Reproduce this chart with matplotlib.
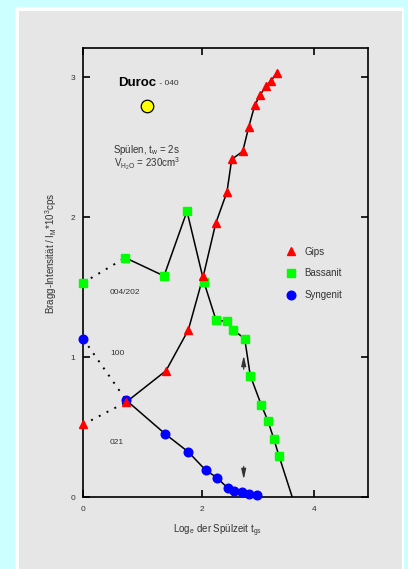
import matplotlib
matplotlib.use("Agg")
import matplotlib.pyplot as plt
from matplotlib.patches import Rectangle
from matplotlib.lines import Line2D

plt.rcParams['font.family'] = ['Liberation Sans', 'DejaVu Sans']
plt.rcParams['mathtext.fontset'] = 'custom'
plt.rcParams['mathtext.rm'] = 'Liberation Sans'
plt.rcParams['mathtext.it'] = 'Liberation Sans'

# ---- data (x = Log_e der Spülzeit, y = Bragg-Intensität) ----
gips_x = [0.0, 0.740, 1.433, 1.820, 2.080, 2.295, 2.490, 2.572, 2.763, 2.866, 2.971, 3.062, 3.166, 3.253, 3.357]
gips_y = [0.521, 0.679, 0.904, 1.195, 1.581, 1.957, 2.181, 2.414, 2.471, 2.643, 2.800, 2.871, 2.938, 2.976, 3.033]

bass_x = [0.0, 0.728, 1.399, 1.797, 2.092, 2.300, 2.490, 2.589, 2.797, 2.894, 3.085, 3.201, 3.300, 3.392]
bass_y = [1.533, 1.711, 1.581, 2.043, 1.536, 1.266, 1.256, 1.197, 1.134, 0.869, 0.659, 0.545, 0.419, 0.295]
bass_tail_x = [3.392, 3.622]
bass_tail_y = [0.295, 0.0]

syn_x = [0.0, 0.740, 1.421, 1.820, 2.118, 2.317, 2.508, 2.617, 2.745, 2.877, 3.005]
syn_y = [1.131, 0.695, 0.452, 0.324, 0.195, 0.140, 0.064, 0.044, 0.038, 0.026, 0.014]

duroc_x, duroc_y = [1.104], [2.795]

x_ticks = [0.0, 2.05, 4.0]
x_ticklabels = ['0', '2', '4']
y_ticks = [0, 1, 2, 3]
y_ticklabels = ['0', '1', '2', '3']

W, H = 408, 569
fig = plt.figure(figsize=(W / 100, H / 100), dpi=100)
fig.patch.set_facecolor('#ccffff')
fig.patches.append(Rectangle((15 / W, 0), (404 - 15) / W, (H - 7) / H,
                             transform=fig.transFigure, facecolor='white', edgecolor='none', zorder=-3))
fig.patches.append(Rectangle((19 / W, 0), (402 - 19) / W, (H - 11) / H,
                             transform=fig.transFigure, facecolor='#e6e6e6', edgecolor='none', zorder=-2))

ax = fig.add_axes([83.3 / W, (H - 497.3) / H, (368 - 83.3) / W, (497.3 - 48.3) / H])
ax.set_facecolor('#e6e6e6')
ax.set_xlim(0, (368 - 83.3) / 57.7)
ax.set_ylim(0, (497.3 - 48.3) / 140)

for s in ax.spines.values():
    s.set_linewidth(1.2)
    s.set_color('black')

ax.set_xticks(x_ticks)
ax.set_xticklabels(x_ticklabels)
ax.set_yticks(y_ticks)
ax.set_yticklabels(y_ticklabels)
ax.tick_params(direction='in', length=5, width=1.2, top=True, right=True,
               labelsize=6, labelcolor='#333333', pad=6)

lw = 1.1
dot = (0, (1, 3.5))
ms = 6.2

# dotted start segments
ax.plot(gips_x[:2], gips_y[:2], color='black', lw=1.4, ls=dot, zorder=2)
ax.plot(bass_x[:2], bass_y[:2], color='black', lw=1.4, ls=dot, zorder=2)
ax.plot(syn_x[:2], syn_y[:2], color='black', lw=1.4, ls=dot, zorder=2)

# solid connecting lines
ax.plot(gips_x[1:], gips_y[1:], color='black', lw=lw, zorder=2)
ax.plot(bass_x[1:], bass_y[1:], color='black', lw=lw, zorder=2)
ax.plot(bass_tail_x, bass_tail_y, color='black', lw=lw, zorder=2)
ax.plot(syn_x[1:], syn_y[1:], color='black', lw=lw, zorder=2)

# markers
ax.plot(syn_x, syn_y, ls='none', marker='o', ms=ms, mfc='#0000ff', mec='#0000ff', zorder=3, clip_on=False)
ax.plot(bass_x, bass_y, ls='none', marker='s', ms=5.5, mfc='#00ff00', mec='#00ff00', zorder=4, clip_on=False)
ax.plot(gips_x, gips_y, ls='none', marker='^', ms=ms, mfc='#ff0000', mec='#ff0000', zorder=5, clip_on=False)

ax.plot(duroc_x, duroc_y, ls='none', marker='o', ms=9, mfc='#ffff00', mec='black', mew=0.9, zorder=5)

# arrows
ax.annotate('', xy=(2.780, 1.032), xytext=(2.780, 0.895),
            arrowprops=dict(arrowstyle='-|>,head_length=0.6,head_width=0.14', color='#333333', lw=0.9))
ax.annotate('', xy=(2.780, 0.108), xytext=(2.780, 0.240),
            arrowprops=dict(arrowstyle='-|>,head_length=0.6,head_width=0.14', color='#333333', lw=0.9))

# texts
ax.text(0.607, 2.961, 'Duroc', fontsize=9.5, fontweight='bold', ha='left', va='center', color='black')
ax.text(1.272, 2.955, ' - 040', fontsize=6, ha='left', va='center', color='#333333')
ax.text(1.10, 2.430,
        'Spülen, t$_\\mathregular{w}$ = 2s\nV$_\\mathregular{H_2O}$ = 230cm$^\\mathregular{3}$',
        fontsize=7, ha='center', va='center', multialignment='center',
        linespacing=0.85, color='#333333')
ax.text(0.451, 1.461, '004/202', fontsize=6, ha='left', va='center', color='#333333')
ax.text(0.463, 1.024, '100', fontsize=6, ha='left', va='center', color='#333333')
ax.text(0.451, 0.390, '021', fontsize=6, ha='left', va='center', color='#333333')

# legend
handles = [
    Line2D([], [], ls='none', marker='^', ms=ms, mfc='#ff0000', mec='#ff0000'),
    Line2D([], [], ls='none', marker='s', ms=5.5, mfc='#00ff00', mec='#00ff00'),
    Line2D([], [], ls='none', marker='o', ms=ms, mfc='#0000ff', mec='#0000ff'),
]
leg = ax.legend(handles, ['Gips', 'Bassanit', 'Syngenit'], loc='upper left',
                bbox_to_anchor=(0.712, 0.558), frameon=False, fontsize=7,
                handlelength=1.0, handletextpad=0.9, labelspacing=1.2,
                borderpad=0, borderaxespad=0, numpoints=1)
for t in leg.get_texts():
    t.set_color('#333333')

# axis labels
fig.text(218 / W, 1 - 530.7 / H, r'Log$_\mathregular{e}$ der Spülzeit t$_\mathregular{gs}$',
         fontsize=7, ha='center', va='center', color='#333333')
fig.text(50.7 / W, 1 - 253.5 / H, r'Bragg-Intensität / I$_\mathregular{M}$*10$^\mathregular{3}$cps',
         fontsize=7, ha='center', va='center', rotation=90, color='#333333')

fig.savefig('out.png', dpi=100, facecolor=fig.get_facecolor())
